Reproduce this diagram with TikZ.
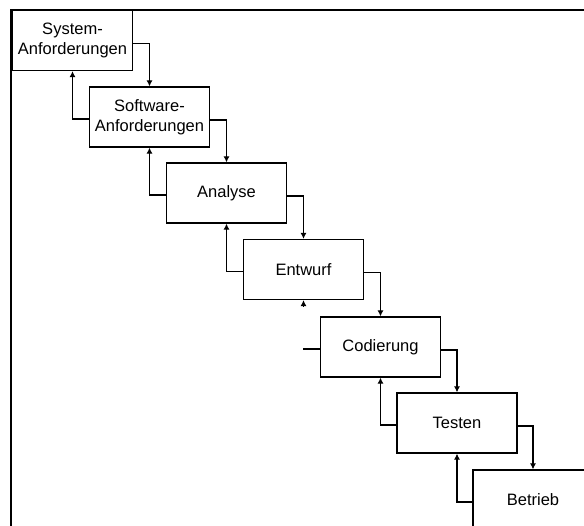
\documentclass[tikz,border=0pt]{standalone}
\usepackage{fontspec}
\setmainfont{Liberation Sans}
\usetikzlibrary{arrows.meta}
\begin{document}
\begin{tikzpicture}[x=1pt,y=-1pt,
  phase/.style={draw=black,line width=1.2pt,fill=white,minimum width=120pt,minimum height=60pt,
    inner sep=0pt,align=center,font=\fontsize{16.5}{20}\selectfont},
  flow/.style={draw=black,line width=1.1pt,-{Latex[length=6pt,width=6pt]}},
  frameline/.style={draw=black,line width=2.2pt}]
\useasboundingbox (0,0) rectangle (584,526);
\begin{scope}
\clip (0,0) rectangle (584,526);
% cascade of phases
\node[phase] (b1) at (72.5,40.5) {System-\\Anforderungen};
\node[phase] (b2) at (149.5,117) {Software-\\Anforderungen};
\node[phase] (b3) at (226.5,193) {Analyse};
\node[phase] (b4) at (303.5,269.5) {Entwurf};
\node[phase] (b5) at (380.5,347) {Codierung};
\node[phase] (b6) at (457,423) {Testen};
\node[phase] (b7) at (533,500) {Betrieb};
% forward flow: right side of a phase down into the next one
\foreach \a/\b in {b1/b2,b2/b3,b3/b4,b4/b5,b5/b6,b6/b7}
  \draw[flow] ([yshift=-3pt]\a.east) -| (\b.north);
% feedback: left side of a phase up into the previous one
\foreach \a/\b in {b2/b1,b3/b2,b4/b3,b6/b5,b7/b6}
  \draw[flow] ([yshift=-2pt]\a.west) -| (\b.south);
% interrupted feedback between Codierung and Entwurf
\coordinate (fb) at (303.5,307);
\coordinate (stub) at (303,349);
\draw[flow] (fb) -- (b4.south);
\draw[line width=1.1pt] ([yshift=-2pt]b5.west) -- (stub);
% outer frame
\coordinate (fa) at (11,526);
\coordinate (fc) at (11,10);
\coordinate (fd) at (584,10);
\draw[frameline] (fa) -- (fc) -- (fd);
\end{scope}
\end{tikzpicture}
\end{document}
